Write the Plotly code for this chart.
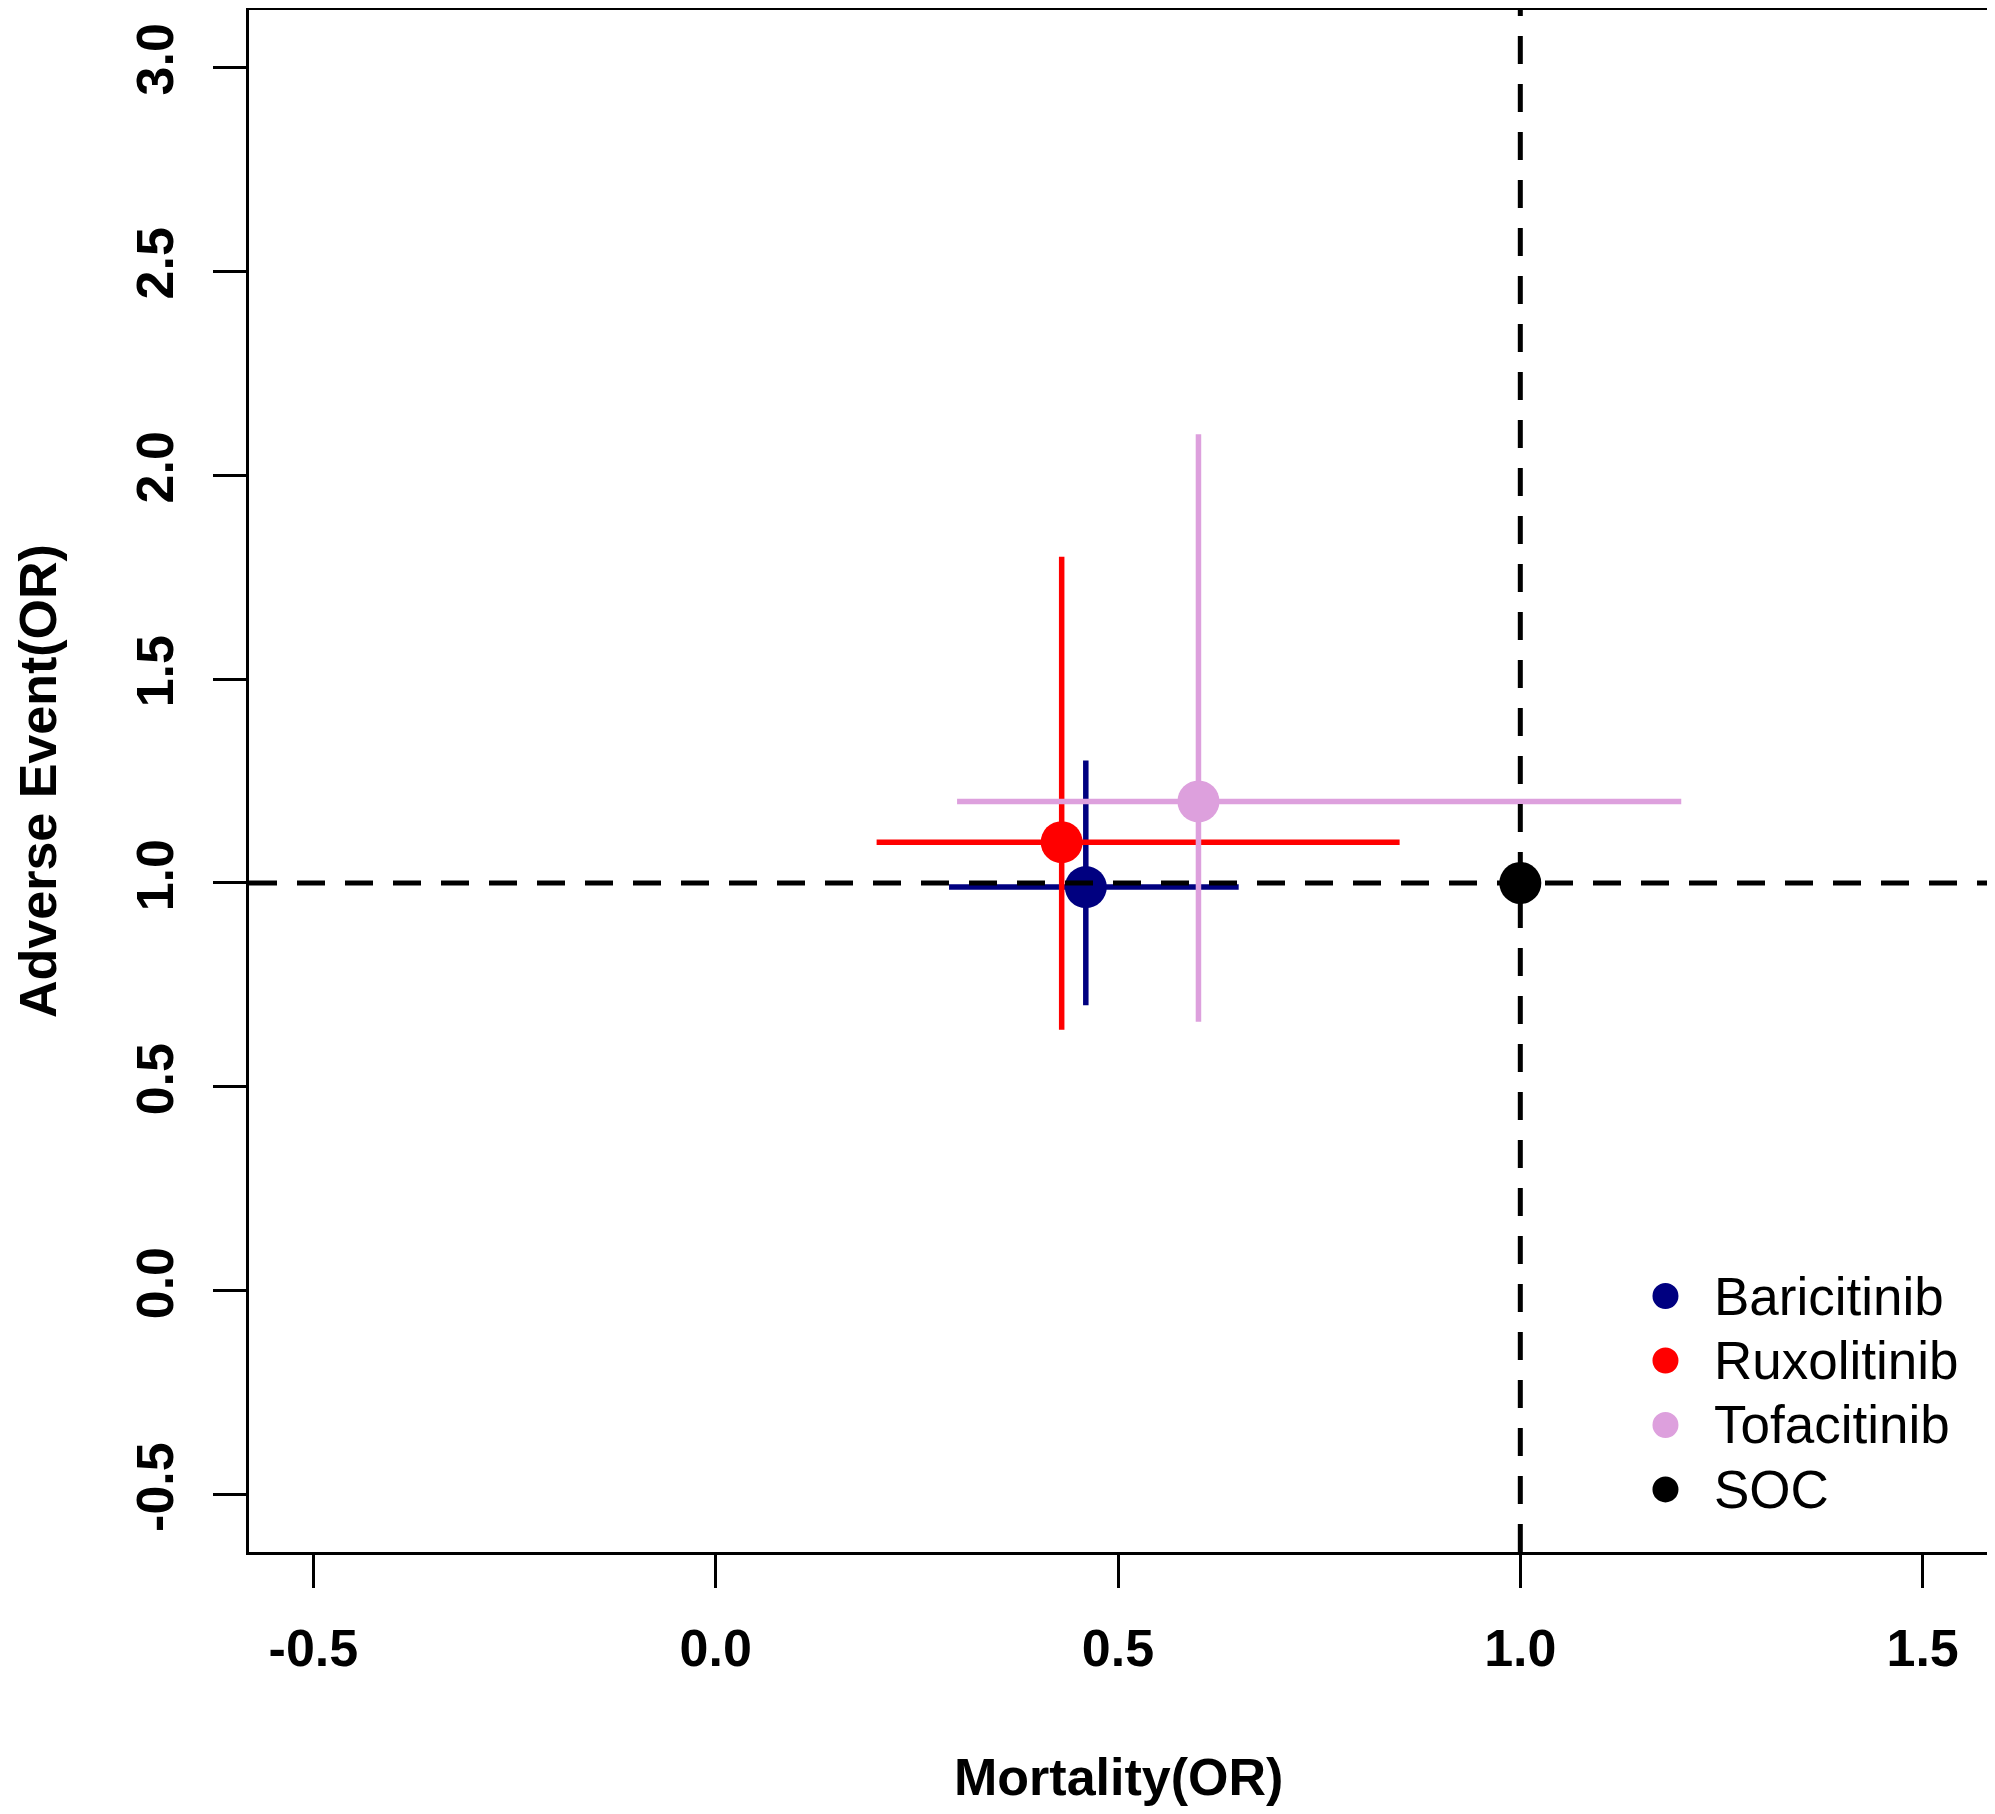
import plotly.graph_objects as go

# point estimates and 95% intervals (odds ratios)
drugs = ["Baricitinib", "Ruxolitinib", "Tofacitinib", "SOC"]
colors = ["navy", "red", "plum", "black"]
mortality = [0.46, 0.43, 0.60, 1.00]
mortality_lo = [0.29, 0.20, 0.30, 1.00]
mortality_hi = [0.65, 0.85, 1.20, 1.00]
adverse = [0.99, 1.10, 1.20, 1.00]
adverse_lo = [0.70, 0.64, 0.66, 1.00]
adverse_hi = [1.30, 1.80, 2.10, 1.00]

x_ticks = [-0.5, 0.0, 0.5, 1.0, 1.5]
y_ticks = [-0.5, 0.0, 0.5, 1.0, 1.5, 2.0, 2.5, 3.0]

font_family = "Liberation Sans, Arial, sans-serif"
bold_font = dict(family=font_family, size=52, color="black", weight="bold")

fig = go.Figure()
for i, name in enumerate(drugs):
    has_ci = name != "SOC"
    fig.add_scatter(
        x=[mortality[i]],
        y=[adverse[i]],
        mode="markers",
        name=name,
        marker=dict(size=42, color=colors[i]),
        error_x=dict(
            type="data",
            symmetric=False,
            array=[mortality_hi[i] - mortality[i]],
            arrayminus=[mortality[i] - mortality_lo[i]],
            color=colors[i],
            thickness=5.5,
            width=0,
            visible=has_ci,
        ),
        error_y=dict(
            type="data",
            symmetric=False,
            array=[adverse_hi[i] - adverse[i]],
            arrayminus=[adverse[i] - adverse_lo[i]],
            color=colors[i],
            thickness=5.5,
            width=0,
            visible=has_ci,
        ),
    )

# reference lines at OR = 1
fig.add_hline(y=1, line=dict(color="black", width=5, dash="28px,20px"), layer="above")
fig.add_vline(x=1, line=dict(color="black", width=5, dash="28px,20px"), layer="above")

# R-style legend (no box) in the lower right corner
leg_x, leg_y, leg_step = 0.815, 0.166, 0.0418
for i, name in enumerate(drugs):
    yy = leg_y - i * leg_step
    fig.add_shape(
        type="circle",
        xref="paper", yref="paper",
        xsizemode="pixel", ysizemode="pixel",
        xanchor=leg_x, yanchor=yy,
        x0=-13, x1=13, y0=-13, y1=13,
        fillcolor=colors[i], line_width=0,
    )
    fig.add_annotation(
        text=name,
        xref="paper", yref="paper",
        x=leg_x + 0.0265, y=yy,
        xanchor="left", yanchor="middle",
        showarrow=False,
        font=dict(family=font_family, size=53, color="black"),
    )

# axis titles placed like R's mtext lines
fig.add_annotation(
    text="Mortality(OR)", xref="paper", yref="paper", x=0.5, y=0,
    xanchor="center", yanchor="middle", yshift=-225,
    showarrow=False, font=bold_font,
)
fig.add_annotation(
    text="Adverse Event(OR)", xref="paper", yref="paper", x=0, y=0.5,
    xanchor="center", yanchor="middle", xshift=-211, textangle=-90,
    showarrow=False, font=bold_font,
)

axis_common = dict(
    showline=True,
    linecolor="black",
    linewidth=3,
    mirror=True,
    showgrid=False,
    zeroline=False,
    automargin=False,
    ticks="outside",
    ticklen=33,
    tickwidth=3,
    tickcolor="black",
    tickfont=bold_font,
)

fig.update_xaxes(
    range=[-0.58, 1.58],
    tickvals=x_ticks,
    ticktext=[f"{v:.1f}" for v in x_ticks],
    ticklabelstandoff=16,
    **axis_common,
)
fig.update_yaxes(
    range=[-0.64, 3.14],
    tickvals=y_ticks,
    ticktext=[f"{v:.1f}" for v in y_ticks],
    tickangle=-90,
    ticklabelstandoff=19,
    **axis_common,
)

fig.update_layout(
    width=1995,
    height=1814,
    margin=dict(l=241, r=16, t=2, b=270),
    plot_bgcolor="white",
    paper_bgcolor="white",
    showlegend=False,
)

fig.write_html("out.html")
